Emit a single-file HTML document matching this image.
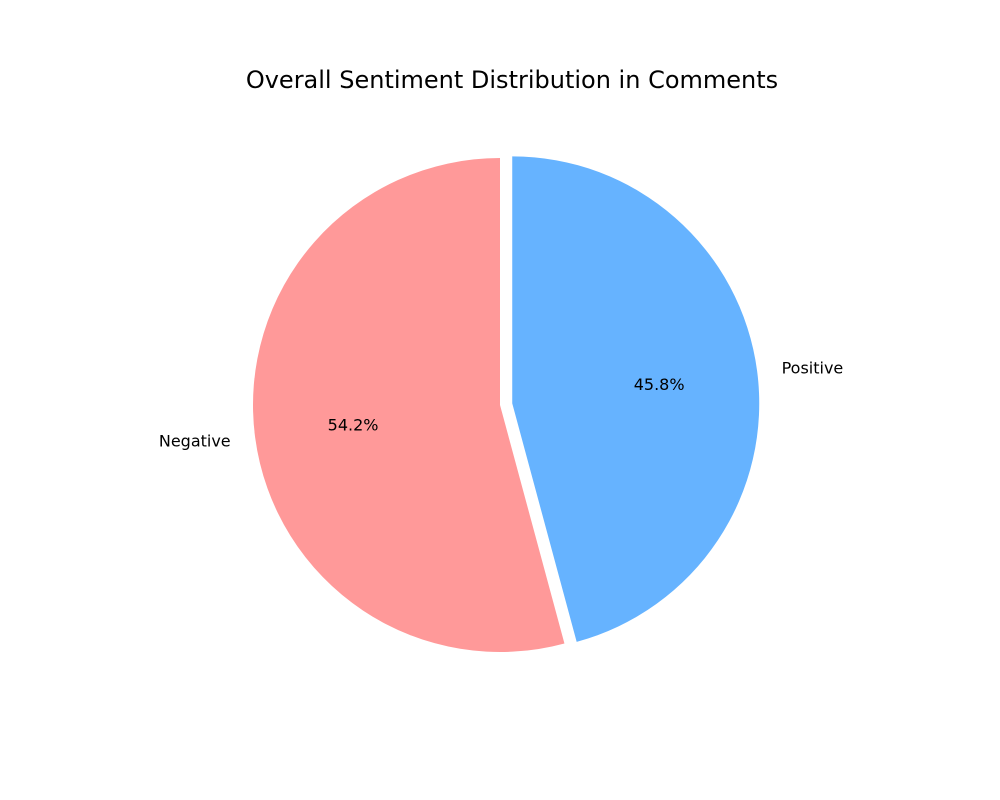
<!DOCTYPE html>
<html><head><meta charset="utf-8"><style>
html,body{margin:0;padding:0;background:#fff;}
svg{display:block;font-family:"DejaVu Sans","Liberation Sans",sans-serif;}
</style></head><body>
<svg id="chart" width="1000" height="800" viewBox="0 0 1000 800">
<rect width="1000" height="800" fill="#fff"/>
<text x="512" y="88" text-anchor="middle" font-size="24" fill="#000">Overall Sentiment Distribution in Comments</text>
<g id="wedges"></g>
</svg>
<script>
const categories = ["Positive", "Negative"];
const values = [45.8, 54.2];
const colors = ["#66b3ff", "#ff9999"];
const explode = [0.05, 0];

const svg = document.getElementById('wedges');
const NS = 'http://www.w3.org/2000/svg';
const cx = 500, cy = 405, r = 247;
const total = values.reduce((a, b) => a + b, 0);
let start = 90;
function pt(x, y, rad, deg) {
  const a = deg * Math.PI / 180;
  return [x + rad * Math.cos(a), y - rad * Math.sin(a)];
}
values.forEach((v, i) => {
  const sweep = v / total * 360;
  const end = start - sweep;
  const mid = (start + end) / 2;
  const [ox, oy] = pt(cx, cy, explode[i] * r, mid);
  const [x1, y1] = pt(ox, oy, r, start);
  const [x2, y2] = pt(ox, oy, r, end);
  const large = sweep > 180 ? 1 : 0;
  const p = document.createElementNS(NS, 'path');
  p.setAttribute('d', `M${ox},${oy} L${x1},${y1} A${r},${r} 0 ${large} 1 ${x2},${y2} Z`);
  p.setAttribute('fill', colors[i]);
  
  
  svg.appendChild(p);
  const [lx, ly] = pt(ox, oy, 1.1 * r, mid);
  const t = document.createElementNS(NS, 'text');
  t.setAttribute('x', lx);
  t.setAttribute('y', ly + 6);
  t.setAttribute('font-size', '16');
  t.setAttribute('text-anchor', Math.cos(mid * Math.PI / 180) >= 0 ? 'start' : 'end');
  t.textContent = categories[i];
  
  
  svg.appendChild(t);
  const [px, py] = pt(ox, oy, 0.6 * r, mid);
  const pc = document.createElementNS(NS, 'text');
  pc.setAttribute('x', px);
  pc.setAttribute('y', py + 6);
  pc.setAttribute('font-size', '16');
  pc.setAttribute('text-anchor', 'middle');
  pc.textContent = v.toFixed(1) + '%';
  
  
  svg.appendChild(pc);
  start = end;
});
</script>
</body></html>
